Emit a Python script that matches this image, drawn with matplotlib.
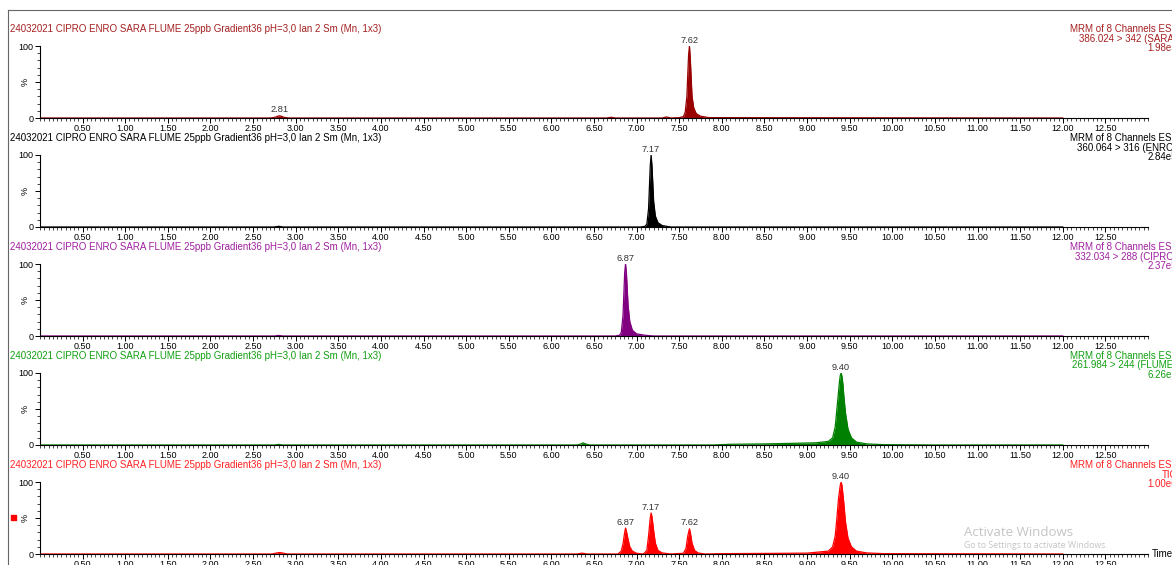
import matplotlib
matplotlib.use("Agg")
import matplotlib.pyplot as plt
import numpy as np
from matplotlib.ticker import MultipleLocator
from matplotlib.lines import Line2D
from matplotlib.patches import Rectangle

plt.rcParams['font.family'] = ['Liberation Sans', 'DejaVu Sans']

W, H = 1172, 565

title = "24032021 CIPRO ENRO SARA FLUME 25ppb Gradient36 pH=3,0 Ian 2 Sm (Mn, 1x3)"

# retention time (min) / relative intensity (%)
sara_t = [0.0, 2.70, 2.76, 2.79, 2.81, 2.83, 2.86, 2.92, 6.65, 6.70, 6.75, 7.30, 7.35, 7.40,
          7.50, 7.55, 7.57, 7.59, 7.60, 7.61, 7.62, 7.63, 7.64, 7.65, 7.67, 7.70, 7.75, 7.85, 12.0]
sara_y = [0, 0, 1, 2.5, 3, 2.5, 1, 0, 0, 1, 0, 0, 1.5, 0,
          0.5, 2, 8, 30, 60, 88, 100, 82, 55, 30, 14, 6, 2.5, 0.5, 0]

enro_t = [0.0, 2.75, 2.80, 2.85, 7.05, 7.10, 7.12, 7.14, 7.15, 7.16, 7.17, 7.18, 7.19, 7.20,
          7.22, 7.25, 7.30, 7.40, 12.0]
enro_y = [0, 0, 1, 0, 0, 1, 4, 25, 55, 85, 100, 85, 60, 35, 15, 6, 2, 0, 0]

cipro_t = [0.0, 2.75, 2.80, 2.85, 6.75, 6.80, 6.82, 6.84, 6.85, 6.86, 6.87, 6.88, 6.89, 6.90,
           6.92, 6.95, 7.00, 7.10, 7.20, 12.0]
cipro_y = [0, 0, 0.8, 0, 0, 1, 5, 28, 58, 88, 100, 88, 65, 42, 20, 8, 3, 1, 0, 0]

flume_t = [0.0, 2.75, 2.80, 2.85, 6.30, 6.35, 6.37, 6.40, 6.45, 7.90, 8.10, 8.50, 8.90, 9.10,
           9.25, 9.30, 9.33, 9.35, 9.37, 9.38, 9.39, 9.40, 9.41, 9.42, 9.43, 9.45, 9.48, 9.52,
           9.58, 9.70, 9.90, 10.5, 12.0]
flume_y = [0, 0, 0.8, 0, 0, 1.5, 3, 1.5, 0, 0, 1, 1.5, 2.5, 3,
           5, 10, 25, 50, 75, 88, 97, 100, 95, 85, 70, 45, 22, 10,
           4, 1.5, 0.5, 0, 0]

tic_t = [0.0, 2.72, 2.78, 2.81, 2.84, 2.90, 6.30, 6.36, 6.42, 6.78, 6.82, 6.84, 6.86, 6.87,
         6.88, 6.90, 6.92, 6.95, 7.00, 7.08, 7.12, 7.14, 7.16, 7.17, 7.18, 7.20, 7.22, 7.25,
         7.30, 7.40, 7.55, 7.58, 7.60, 7.62, 7.63, 7.65, 7.68, 7.72, 7.80, 8.00, 8.50, 9.00,
         9.25, 9.30, 9.33, 9.35, 9.37, 9.39, 9.40, 9.41, 9.43, 9.45, 9.48, 9.52, 9.58, 9.70,
         9.90, 12.0]
tic_y = [0, 0, 1.5, 2, 1.5, 0, 0, 1.2, 0, 0, 4, 14, 30, 36,
         32, 20, 10, 4, 1, 0, 5, 25, 50, 57, 52, 32, 15, 5,
         1.5, 0, 1, 8, 25, 35, 30, 15, 5, 1.5, 0, 0.5, 0.8, 1.2,
         4, 10, 25, 50, 78, 96, 100, 95, 72, 45, 22, 10, 4, 1.5,
         0.5, 0]

traces_t = [sara_t, enro_t, cipro_t, flume_t, tic_t]
traces_y = [sara_y, enro_y, cipro_y, flume_y, tic_y]
peak_labels = [[2.81, 7.62], [7.17], [6.87], [9.40], [6.87, 7.17, 7.62, 9.40]]
colors = ['#990000', '#000000', '#800080', '#008000', '#ff0000']
title_colors = ['#a52020', '#000000', '#a020a0', '#10a010', '#ff2020']
channel_lines = [
    ["MRM of 8 Channels ES+", "386.024 > 342 (SARA)", "1.98e5"],
    ["MRM of 8 Channels ES+", "360.064 > 316 (ENRO)", "2.84e5"],
    ["MRM of 8 Channels ES+", "332.034 > 288 (CIPRO)", "2.37e5"],
    ["MRM of 8 Channels ES+", "261.984 > 244 (FLUME)", "6.26e5"],
    ["MRM of 8 Channels ES+", "TIC", "1.00e6"],
]
x_major = np.arange(0.5, 12.51, 0.5)

fig = plt.figure(figsize=(W / 100, H / 100), dpi=100)

def fx(px):
    return px / W

def fy(py):
    return 1 - py / H

x0_px, x1_px = 40, 1148
for i in range(5):
    base = 118 + 109 * i
    top = base - 72
    ax = fig.add_axes([fx(x0_px), fy(base), fx(x1_px - x0_px), (base - top) / H])
    col = colors[i]
    ax.fill_between(traces_t[i], traces_y[i], 0, color=col, lw=0)
    ax.plot(traces_t[i], traces_y[i], color=col, lw=0.9)
    ax.set_xlim(0, 13.0)
    ax.set_ylim(0, 100)
    for s in ['top', 'right']:
        ax.spines[s].set_visible(False)
    ax.spines['left'].set_linewidth(0.8)
    ax.spines['bottom'].set_linewidth(0.8)
    ax.set_xticks(x_major)
    ax.set_xticklabels(['%.2f' % v for v in x_major])
    ax.xaxis.set_minor_locator(MultipleLocator(0.05))
    ax.set_yticks([0, 50, 100])
    ax.set_yticklabels(['0', '', '100'])
    ax.yaxis.set_minor_locator(MultipleLocator(10))
    ax.tick_params(axis='both', which='major', labelsize=6.5, length=3.5, width=0.7, pad=1)
    ax.tick_params(axis='x', which='major', pad=0.5)
    ax.tick_params(axis='both', which='minor', length=2, width=0.5)
    ax.text(-0.009, 50, '%', transform=ax.get_yaxis_transform(), rotation=90,
            ha='right', va='center', fontsize=6.5)

    for p in peak_labels[i]:
        h = np.interp(p, traces_t[i], traces_y[i])
        ax.text(p, h + 2, '%.2f' % p, ha='center', va='bottom', fontsize=6.7,
                color='#333333', clip_on=False)

    fig.text(fx(10), fy(base - 89), title, color=title_colors[i], fontsize=7,
             ha='left', va='center')
    for j, line in enumerate(channel_lines[i]):
        fig.text(fx(1177), fy(base - 89 + 9.5 * j), line, color=title_colors[i],
                 fontsize=7, ha='right', va='center')

    if i == 4:
        fig.text(fx(1152), fy(base), 'Time', fontsize=7, ha='left', va='center')

# window frame edges
fig.add_artist(Line2D([fx(8), fx(8)], [fy(10), 0], color='#666666', lw=0.8))
fig.add_artist(Line2D([fx(8), 1], [fy(10), fy(10)], color='#666666', lw=0.8))
fig.add_artist(Rectangle((fx(11), fy(520)), 5 / W, 5 / H, color='#ff0000',
                         transform=fig.transFigure))

# windows watermark
fig.text(fx(964), fy(532), 'Activate Windows', fontsize=9.5, color='#c4c4c4',
         family=['Open Sans', 'DejaVu Sans'], ha='left', va='center')
fig.text(fx(964), fy(546), 'Go to Settings to activate Windows.', fontsize=6.3,
         color='#c4c4c4', family=['Open Sans', 'DejaVu Sans'], ha='left', va='center')

fig.savefig('out.png', dpi=100)
